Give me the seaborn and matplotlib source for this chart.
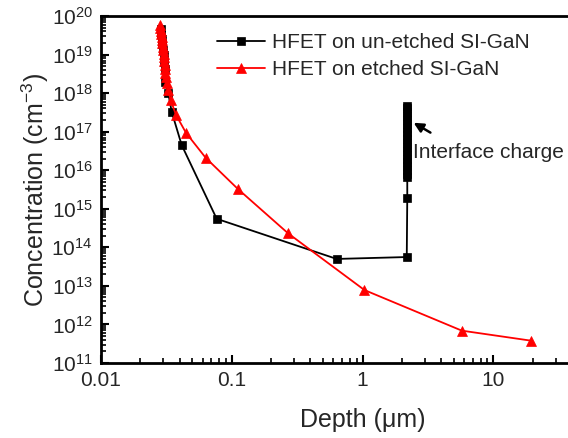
import numpy as np
import pandas as pd
import matplotlib
matplotlib.use("Agg")
import matplotlib.pyplot as plt
from matplotlib.ticker import LogLocator, FuncFormatter, LogFormatterMathtext, NullFormatter
import seaborn as sns

# ---- data (depth in um, concentration in cm^-3) ----
unetched_depth = [0.0286, 0.0289, 0.0292, 0.0295, 0.0298, 0.0301, 0.0304, 0.0307,
                  0.0310, 0.0327, 0.0347, 0.0414, 0.0767, 0.635, 2.18, 2.2,
                  2.2, 2.2, 2.2, 2.2, 2.2, 2.2, 2.2, 2.2, 2.2, 2.2, 2.2, 2.2, 2.2,
                  2.2, 2.2, 2.2, 2.2, 2.2, 2.2, 2.2]
unetched_conc = [4.6e19, 3.5e19, 2.6e19, 1.9e19, 1.35e19, 9.5e18, 6.5e18, 4.2e18,
                 2e18, 1e18, 3.3e17, 4.5e16, 5.5e14, 5.0e13, 5.6e13, 1.9e15,
                 6.6e15, 8e15, 1e16, 1.25e16, 1.6e16, 2e16, 2.5e16, 3.2e16, 4e16, 5e16, 6.3e16,
                 8e16, 1e17, 1.25e17, 1.6e17, 2e17, 2.5e17, 3.2e17, 4e17, 4.7e17]

etched_depth = [0.0283, 0.0285, 0.0287, 0.0289, 0.0291, 0.0293, 0.0295, 0.0297, 0.0299,
                0.0301, 0.0303, 0.0305, 0.0307, 0.0309, 0.0311, 0.0314, 0.0318, 0.0327,
                0.0341, 0.0375, 0.0447, 0.0632, 0.111, 0.270, 1.035, 5.75, 19.4]
etched_conc = [6e19, 5e19, 4.2e19, 3.5e19, 2.9e19, 2.4e19, 2e19, 1.6e19, 1.3e19,
               1.05e19, 8.5e18, 6.8e18, 5.4e18, 4.3e18, 3.4e18, 2.6e18, 1.8e18, 1.2e18,
               6.6e17, 2.7e17, 9.3e16, 2.1e16, 3.3e15, 2.3e14, 7.8e12, 6.9e11, 3.8e11]

label_unetched = "HFET on un-etched SI-GaN"
label_etched = "HFET on etched SI-GaN"
xlabel = "Depth (\u03bcm)"
ylabel = r"Concentration (cm$^{\mathdefault{-3}}$)"
annot_text = "Interface charge"

sns.set_style("ticks")
plt.rcParams['font.family'] = ['Liberation Sans', 'DejaVu Sans']
plt.rcParams['mathtext.default'] = 'regular'

fig = plt.figure(figsize=(5.68, 4.38), dpi=100)
W, H = 568, 438
ax = fig.add_axes([101 / W, 75 / H, 523 / W, 347 / H])

sns.lineplot(x=unetched_depth, y=unetched_conc, ax=ax, estimator=None, sort=False,
             color="black", linewidth=1.3, marker="s", markersize=5.5,
             markeredgecolor="black", markeredgewidth=0.5, label=label_unetched, zorder=2)
sns.lineplot(x=etched_depth, y=etched_conc, ax=ax, estimator=None, sort=False,
             color="#ff0000", linewidth=1.3, marker="^", markersize=7.5,
             markeredgecolor="#ff0000", markeredgewidth=0.5, label=label_etched, zorder=3)

ax.set_xscale("log")
ax.set_yscale("log")
ax.set_xlim(0.01, 100)
ax.set_ylim(1e11, 1e20)

ax.xaxis.set_major_locator(LogLocator(base=10, numticks=20))
ax.xaxis.set_minor_locator(LogLocator(base=10, subs=np.arange(2, 10), numticks=20))
ax.xaxis.set_major_formatter(FuncFormatter(lambda v, p: f"{v:g}" if v < 50 else ""))
ax.xaxis.set_minor_formatter(NullFormatter())
ax.yaxis.set_major_locator(LogLocator(base=10, numticks=20))
ax.yaxis.set_minor_locator(LogLocator(base=10, subs=np.arange(2, 10), numticks=20))
ax.yaxis.set_major_formatter(LogFormatterMathtext())
ax.yaxis.set_minor_formatter(NullFormatter())

ax.tick_params(which="both", direction="in", top=False, right=False, color="black")
ax.tick_params(which="major", length=6, width=1.5, labelsize=15, pad=6)
ax.tick_params(which="minor", length=3.5, width=1.2)
for s in ax.spines.values():
    s.set_linewidth(2)
    s.set_color("black")
    s.set_visible(True)

ax.set_xlabel(xlabel, fontsize=18, labelpad=13)
ax.set_ylabel(ylabel, fontsize=18, labelpad=0)

ax.annotate("", xy=(2.36, 1.85e17), xytext=(3.45, 8.7e16),
            arrowprops=dict(arrowstyle="-|>", color="black", lw=1.8, mutation_scale=14))
ax.text(2.44, 2.9e16, annot_text, fontsize=15, va="center", ha="left")

ax.legend(loc="upper left", bbox_to_anchor=(217 / W, 1 - 33 / H),
          bbox_transform=fig.transFigure, frameon=False, fontsize=15,
          borderpad=0, borderaxespad=0, handlelength=2.3, handletextpad=0.35,
          labelspacing=0.4)

fig.savefig("out.png", dpi=100)
